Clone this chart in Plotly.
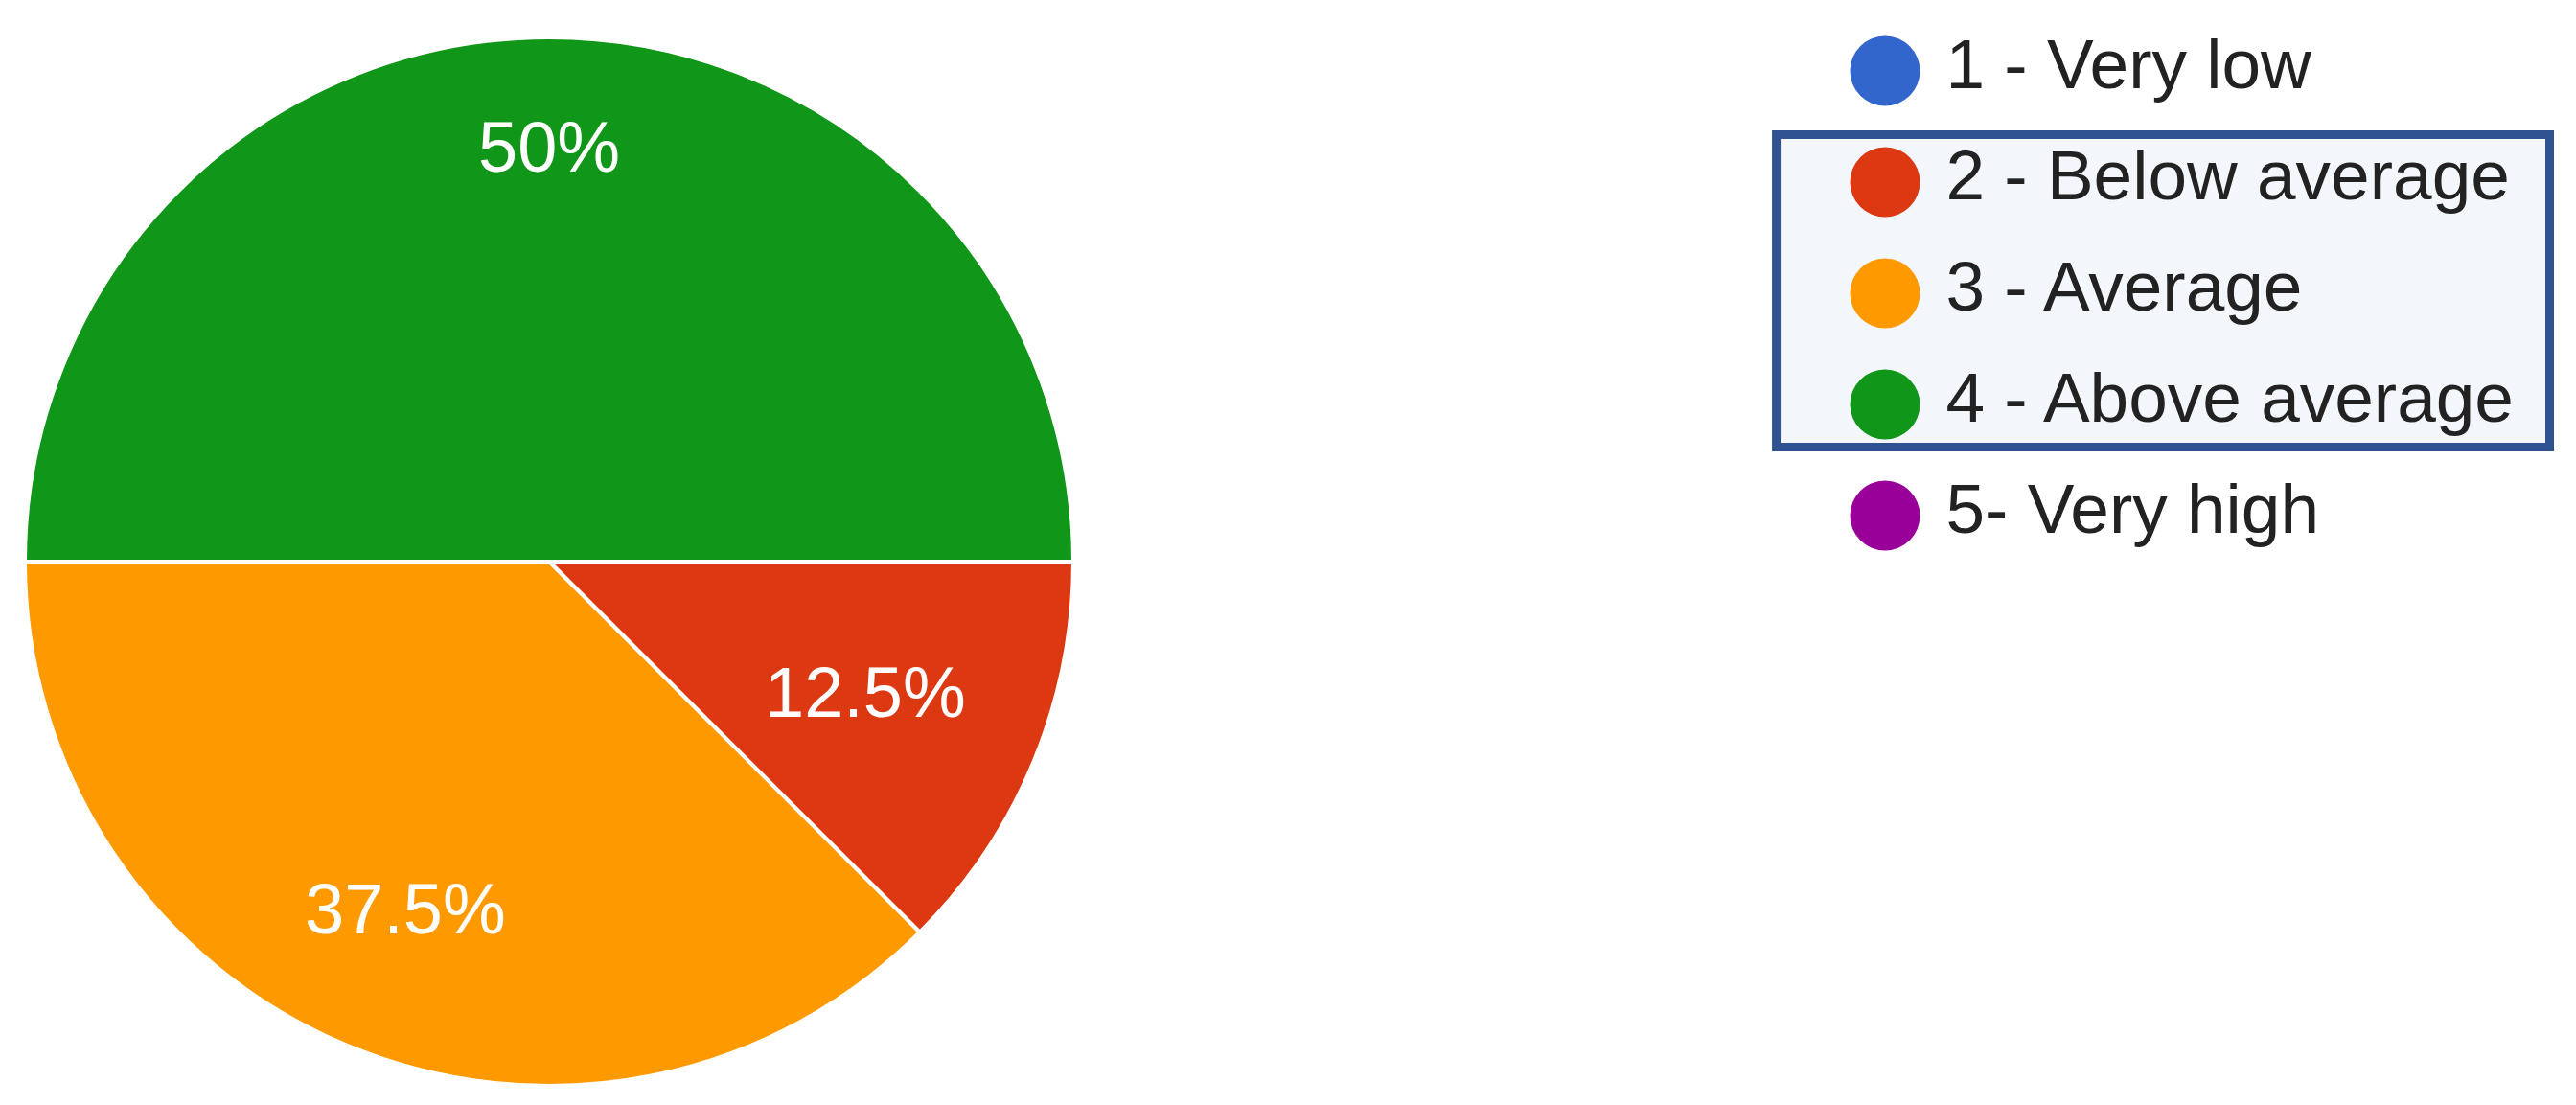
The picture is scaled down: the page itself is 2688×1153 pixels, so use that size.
import math

import plotly.graph_objects as go

# survey answers: ratings and how many respondents picked each
ratings = ["1 - Very low", "2 - Below average", "3 - Average", "4 - Above average", "5- Very high"]
counts = [0, 1, 3, 4, 0]
colors = ["#3366CC", "#DC3912", "#FF9900", "#109618", "#990099"]
highlighted = ["2 - Below average", "3 - Average", "4 - Above average"]

FONT = "Liberation Sans, Arial, sans-serif"
W, H = 2688, 1153
LABEL_SIZE = 74

# pie placement in pixels (centre and radius)
CX, CY, R = 565, 578, 547
pie_domain = dict(
    x=[(CX - R) / W, (CX + R) / W],
    y=[(H - CY - R) / H, (H - CY + R) / H],
)


def pct_text(c, total):
    p = round(c / total * 100, 1)
    return f"{p:g}%"


def text_width(s, size):
    # rough Arial advance widths
    widths = {".": 0.278, "%": 0.889}
    return sum(widths.get(ch, 0.556) for ch in s) * size


fig = go.Figure()

fig.add_trace(
    go.Pie(
        labels=ratings,
        values=counts,
        sort=False,
        direction="clockwise",
        rotation=90,
        marker=dict(colors=colors, line=dict(color="white", width=4)),
        textinfo="none",
        domain=pie_domain,
        showlegend=False,
        hoverinfo="skip",
    )
)

# percent labels, placed like Google charts: outer corner of the text box on 0.85 R
total = sum(counts)
start = 0.0  # degrees clockwise from 3 o'clock
for c in counts:
    if c == 0:
        continue
    span = c / total * 360
    mid = math.radians(-(start + span / 2))  # math convention, y up
    ux, uy = math.cos(mid), math.sin(mid)
    txt = pct_text(c, total)
    hw = text_width(txt, LABEL_SIZE) / 2
    hh = 0.716 * LABEL_SIZE / 2
    cx_, cy_ = math.copysign(hw, ux), math.copysign(hh, uy)
    dot = ux * cx_ + uy * cy_
    d = -dot + math.sqrt(dot * dot - (cx_ ** 2 + cy_ ** 2) + (0.85 * R) ** 2)
    px_x = CX + d * ux
    px_y = CY - d * uy
    fig.add_annotation(
        x=px_x / W,
        y=(H - px_y) / H,
        xref="paper",
        yref="paper",
        text=txt,
        showarrow=False,
        xanchor="center",
        yanchor="middle",
        font=dict(family=FONT, size=LABEL_SIZE, color="white"),
    )
    start += span

# hand-made legend on hidden axes so the dots can be big circles
rows = list(range(len(ratings)))
fig.add_trace(
    go.Scatter(
        x=[0] * len(ratings),
        y=rows,
        mode="markers",
        marker=dict(size=73, color=colors),
        showlegend=False,
        hoverinfo="skip",
    )
)
fig.add_trace(
    go.Scatter(
        x=[0.82] * len(ratings),
        y=rows,
        mode="text",
        text=ratings,
        textposition="middle right",
        textfont=dict(family=FONT, size=73, color="#222222"),
        showlegend=False,
        hoverinfo="skip",
    )
)

idx = [ratings.index(r) for r in highlighted]
fig.add_shape(
    type="rect",
    xref="paper",
    yref="y",
    x0=0.6866,
    x1=0.9868,
    y0=min(idx) - 0.427,
    y1=max(idx) + 0.384,
    line=dict(color="#2F5290", width=9),
    fillcolor="#F3F7FC",
    layer="below",
)

fig.update_layout(
    width=W,
    height=H,
    margin=dict(l=0, r=0, t=0, b=0),
    paper_bgcolor="white",
    plot_bgcolor="rgba(0,0,0,0)",
    hovermode=False,
    xaxis=dict(domain=[0.7, 1.0], range=[-1, 9.42], visible=False, fixedrange=True),
    yaxis=dict(domain=[0, 1], range=[9.371, -0.569], visible=False, fixedrange=True),
)

fig.write_html("out.html")
